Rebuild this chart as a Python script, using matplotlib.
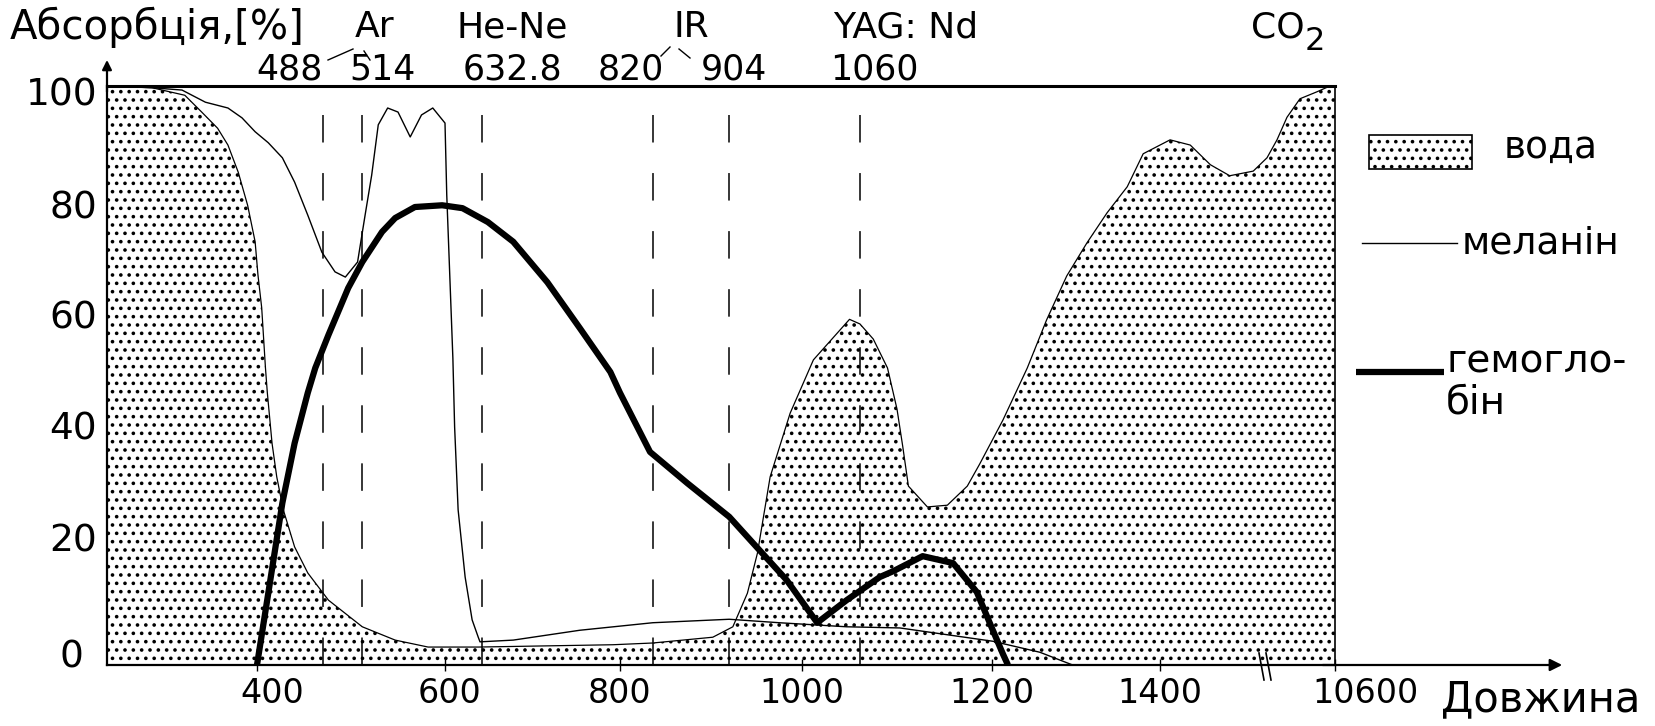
import numpy as np
import matplotlib
matplotlib.use("Agg")
import matplotlib.pyplot as plt
import matplotlib.transforms as mtransforms
from matplotlib.patches import Rectangle
from matplotlib.lines import Line2D

plt.rcParams['font.family'] = ['DejaVu Sans']
plt.rcParams['hatch.linewidth'] = 1.4

# water absorption (dotted area), wavelength in nm / absorption in %
water_nm = [240, 288, 323, 341, 358, 369, 380, 390, 398, 401,
            405, 409, 411, 416, 421, 428, 440, 454, 476, 512,
            547, 582, 638, 792, 836, 902, 924, 940, 951, 965,
            987, 1012, 1050, 1061, 1075, 1090, 1100, 1106, 1112, 1132,
            1153, 1174, 1187, 1213, 1242, 1265, 1289, 1313, 1337, 1361,
            1380, 1412, 1436, 1460, 1483, 1511, 1784, 3080, 4376, 6061,
            8264, 9950, 10600]
water_abs = [100, 99.7, 98.4, 95.5, 92.7, 89.8, 85.1, 79.4, 73.1, 67.4,
             61.7, 51.3, 47.0, 38.3, 32.5, 26.8, 20.4, 15.9, 11.2, 6.6,
             4.3, 3.1, 3.1, 3.5, 3.8, 4.8, 6.6, 12.4, 19.3, 32.5,
             43.5, 52.7, 59.7, 58.9, 56.3, 51.3, 44.2, 37.8, 30.9, 27.3,
             27.6, 30.9, 34.7, 42.3, 51.3, 59.6, 67.2, 72.9, 78.1, 82.6,
             88.3, 90.7, 89.8, 86.4, 84.5, 85.3, 87.6, 90.7, 94.6, 97.8,
             99.0, 100, 100]

# melanin (thin line)
mel_nm = [240, 288, 320, 345, 369, 384, 398, 412, 427, 440,
          454, 469, 483, 494, 507, 515, 522, 529, 539, 550,
          563, 575, 587, 600, 602, 606, 609, 611, 615, 623,
          631, 638, 640, 678, 754, 836, 920, 975, 1047, 1103,
          1201, 1257, 1296]
mel_abs = [100, 99.7, 99.3, 97.2, 96.2, 94.5, 92.1, 90.2, 87.6, 83.4,
           77.7, 71.3, 67.9, 67.0, 69.6, 77.7, 84.6, 93.3, 96.2, 95.5,
           91.2, 95.0, 96.2, 93.6, 81.2, 65.1, 53.0, 41.1, 26.8, 15.2,
           7.8, 4.8, 4.0, 4.3, 6.0, 7.3, 7.9, 7.3, 6.6, 6.4,
           4.1, 2.2, 0]

# hemoglobin (thick line)
hb_nm = [400, 412, 427, 440, 454, 462, 476, 497, 512, 533,
         547, 568, 597, 620, 649, 678, 717, 754, 789, 800,
         833, 874, 920, 950, 983, 1016, 1047, 1082, 1096, 1127,
         1159, 1184, 1201, 1213, 1219]
hb_abs = [0, 12.4, 28, 38.3, 47, 51.3, 57, 65.1, 69.6, 74.8,
          77.2, 79.1, 79.4, 78.9, 76.5, 73.1, 66.1, 58.2, 50.6, 47.0,
          36.8, 31.4, 25.6, 20.4, 14.7, 7.3, 11.2, 15.2, 16.2, 18.8,
          17.6, 12.6, 6.0, 1.9, 0]

# laser lines (where they are drawn) and their labels
laser_line_nm = [470, 512, 642, 836, 920, 1061]
laser_wl_labels = ["488", "514", "632.8", "820", "904", "1060"]
laser_names = ["Ar", "He-Ne", "IR", "YAG: Nd", "CO"]

x_ticks = [400, 600, 800, 1000, 1200, 1400, 10600]
y_ticks = [0, 20, 40, 60, 80, 100]

# hand drawn axis: uneven spacing and a break before 10600
AXIS_NM = [240, 400, 600, 800, 1000, 1200, 1400, 1525, 10600]
AXIS_POS = [0, 150, 338, 513, 695, 885, 1053, 1158, 1228]


def fwd(x):
    return np.interp(x, AXIS_NM, AXIS_POS)


def inv(p):
    return np.interp(p, AXIS_POS, AXIS_NM)


W, H = 1655, 726


def fp(x, y):
    # pixel of the reference -> figure fraction
    return x / W, 1 - y / H


fig = plt.figure(figsize=(W / 100, H / 100), dpi=100)
ax = fig.add_axes([107 / W, 61 / H, 1228 / W, 579 / H])
ax.set_xscale('function', functions=(fwd, inv))
ax.set_xlim(240, 10600)
ax.set_ylim(0, 100)

ax.fill_between(water_nm, water_abs, 0, facecolor='none', edgecolor='black',
                linewidth=0, hatch='..')
ax.plot(water_nm, water_abs, color='black', lw=0.9)
ax.plot(mel_nm, mel_abs, color='black', lw=1.0)
ax.plot(hb_nm, hb_abs, color='black', lw=4.5, solid_capstyle='butt')

for x in laser_line_nm:
    ax.axvline(x, color='black', lw=1.1, linestyle=(0, (18, 20)))

ax.set_xticks(x_ticks, labels=[str(t) for t in x_ticks])
ax.set_yticks(y_ticks, labels=[str(t) for t in y_ticks])
ax.tick_params(axis='x', direction='inout', length=9, width=1, pad=4, labelsize=24)
ax.tick_params(axis='y', length=0, pad=7, labelsize=27)

for side, lw in [('top', 2.2), ('left', 1.6), ('bottom', 1.6), ('right', 1.2)]:
    ax.spines[side].set_linewidth(lw)

# axis arrows
ax.annotate("", xy=(1.185, 0), xytext=(0.99, 0), xycoords='axes fraction',
            arrowprops=dict(arrowstyle='-|>', lw=1.6, color='black', mutation_scale=18,
                            shrinkA=0, shrinkB=0))
ax.annotate("", xy=(0, 1.045), xytext=(0, 0.99), xycoords='axes fraction',
            arrowprops=dict(arrowstyle='-|>', lw=1.6, color='black', mutation_scale=14,
                            shrinkA=0, shrinkB=0))

# break mark on the x axis
for x0 in (1259, 1266):
    fig.add_artist(Line2D([fp(x0, 0)[0], fp(x0 + 5, 0)[0]],
                          [fp(0, 653)[1], fp(0, 680)[1]], color='black', lw=1.2))

# labels above the frame
fig.text(*fp(10, 27), "Абсорбція,[%]", fontsize=29, ha='left', va='center')
name_x = [375, 512, 691, 906, 1278]
for name, x in zip(laser_names, name_x):
    fig.text(*fp(x, 27), name, fontsize=26, ha='center', va='center')
fig.text(*fp(1305, 42), "2", fontsize=23, ha='left', va='center')
wl_x = [290, 382, 512, 631, 734, 874]
for lab, x in zip(laser_wl_labels, wl_x):
    fig.text(*fp(x, 69), lab, fontsize=25, ha='center', va='center')

# small connectors from the laser names to their lines
for (x1, y1), (x2, y2) in [((328, 60), (353, 49)), ((364, 51), (370, 60)),
                           ((661, 56), (670, 47)), ((679, 49), (690, 58))]:
    a, b = fp(x1, y1), fp(x2, y2)
    fig.add_artist(Line2D([a[0], b[0]], [a[1], b[1]], color='black', lw=1.0))

fig.text(*fp(1541, 699), "Довжина", fontsize=30, ha='center', va='center')

# legend drawn by hand
rx, ry = fp(1369, 169)
fig.patches.append(Rectangle((rx, ry), 103 / W, 34 / H, transform=fig.transFigure,
                             figure=fig, facecolor='white', edgecolor='black',
                             lw=1.2, hatch='..'))
fig.text(*fp(1504, 148), "вода", fontsize=27, ha='left', va='center')
a, b = fp(1362, 243), fp(1457, 243)
fig.add_artist(Line2D([a[0], b[0]], [a[1], b[1]], color='black', lw=1.0))
fig.text(*fp(1462, 243), "меланін", fontsize=27, ha='left', va='center')
a, b = fp(1356, 372), fp(1444, 372)
fig.add_artist(Line2D([a[0], b[0]], [a[1], b[1]], color='black', lw=4.5,
                      solid_capstyle='butt'))
fig.text(*fp(1446, 382), "гемогло-\nбін", fontsize=28, ha='left', va='center',
         linespacing=1.1)


def shift(label, dx, dy):
    # dx, dy in pixels (right, up)
    label.set_transform(label.get_transform() +
                        mtransforms.ScaledTranslation(dx / 100, dy / 100, fig.dpi_scale_trans))


x_shift = {400: 15, 600: 4, 10600: 31}
for t, lab in zip(x_ticks, ax.get_xticklabels()):
    shift(lab, x_shift.get(t, 0), 0)
y_shift = {0: (-14, 11), 20: (0, 12), 40: (0, 8), 60: (0, 3), 80: (0, -3), 100: (0, -5)}
for t, lab in zip(y_ticks, ax.get_yticklabels()):
    shift(lab, *y_shift[t])

fig.savefig("out.png", dpi=100)
